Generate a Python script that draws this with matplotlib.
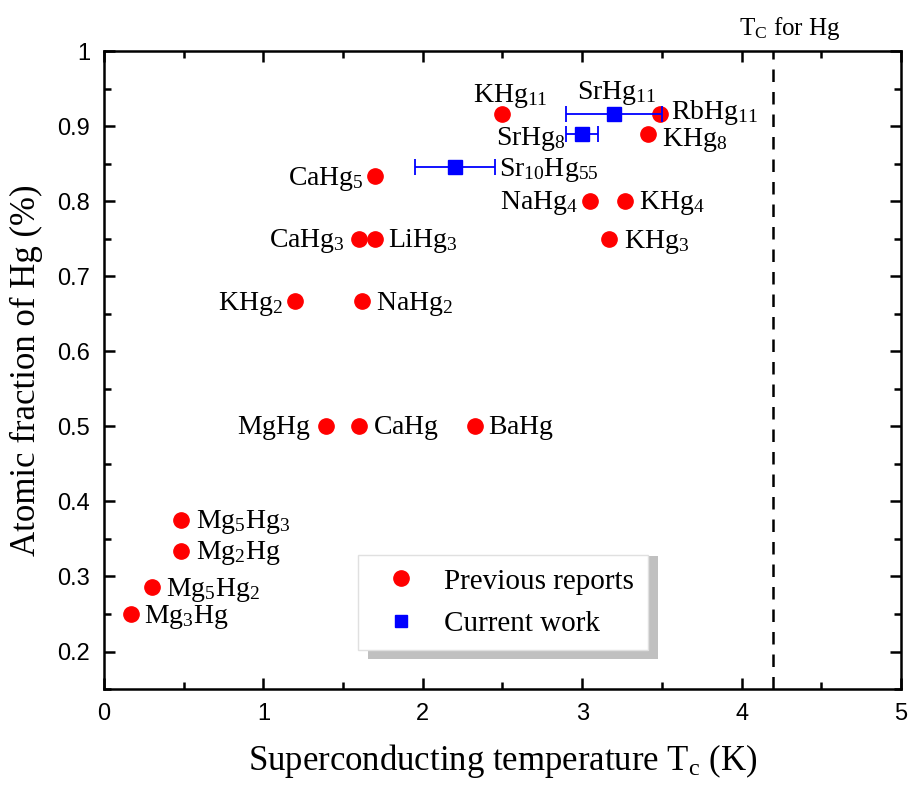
import matplotlib
matplotlib.use("Agg")
import matplotlib.pyplot as plt
from matplotlib.patches import Rectangle
from matplotlib.lines import Line2D
from matplotlib.ticker import MultipleLocator

plt.rcParams['font.family'] = ['Liberation Serif', 'DejaVu Serif']
plt.rcParams['mathtext.fontset'] = 'custom'
plt.rcParams['mathtext.rm'] = 'Liberation Serif'

# previous reports (red circles)
prev_names = ['KHg_{11}', 'RbHg_{11}', 'KHg_{8}', 'CaHg_{5}', 'NaHg_{4}', 'KHg_{4}',
              'CaHg_{3}', 'LiHg_{3}', 'KHg_{3}', 'KHg_{2}', 'NaHg_{2}',
              'MgHg', 'CaHg', 'BaHg', 'Mg_{5}Hg_{3}', 'Mg_{2}Hg', 'Mg_{5}Hg_{2}', 'Mg_{3}Hg']
prev_tc = [2.50, 3.49, 3.41, 1.70, 3.05, 3.27, 1.60, 1.70, 3.17, 1.20, 1.62,
           1.39, 1.60, 2.33, 0.48, 0.48, 0.30, 0.17]
prev_frac = [11/12, 11/12, 8/9, 5/6, 0.8, 0.8, 0.75, 0.75, 0.75, 2/3, 2/3,
             0.5, 0.5, 0.5, 3/8, 1/3, 2/7, 0.25]
# label offsets in pixels (dx, dy, ha)
prev_off = [(8, 18, 'center'), (11, 1, 'left'), (14, -6, 'left'), (-11, -3, 'right'),
            (-12, -2, 'right'), (14, -2, 'left'), (-14, -2, 'right'), (13, -2, 'left'),
            (15, -3, 'left'), (-12, -3, 'right'), (14, -3, 'left'), (-15, -2, 'right'),
            (14, -2, 'left'), (13, -2, 'left'), (15, -2, 'left'), (15, -2, 'left'),
            (14, -3, 'left'), (13, -3, 'left')]

# current work (blue squares)
cur_names = ['SrHg_{11}', 'SrHg_{8}', 'Sr_{10}Hg_{55}']
cur_tc = [3.20, 3.00, 2.20]
cur_err = [0.30, 0.10, 0.25]
cur_frac = [11/12, 8/9, 55/65]
cur_off = [(3, 21, 'center'), (-16, -5, 'right'), (44, -3, 'left')]

tc_hg = 4.2

fig = plt.figure(figsize=(9.09, 7.89), dpi=100)
ax = fig.add_axes([0.1144, 0.1267, 0.8768, 0.8086])

ax.plot(prev_tc, prev_frac, 'o', color='#ff0000', ms=11, zorder=3)
ax.errorbar(cur_tc, cur_frac, xerr=cur_err, fmt='s', color='#0000ff', ms=10,
            elinewidth=1.3, capsize=6, capthick=1.3, zorder=4)
ax.axvline(tc_hg, color='black', lw=1.8, ls=(0, (5, 4)))

for n, x, y, (dx, dy, ha) in zip(prev_names, prev_tc, prev_frac, prev_off):
    ax.annotate(r'$\mathregular{' + n + '}$', (x, y), xytext=(dx, dy),
                textcoords='offset pixels', ha=ha, va='center', fontsize=20)
for n, x, y, (dx, dy, ha) in zip(cur_names, cur_tc, cur_frac, cur_off):
    ax.annotate(r'$\mathregular{' + n + '}$', (x, y), xytext=(dx, dy),
                textcoords='offset pixels', ha=ha, va='center', fontsize=20)

ax.text(4.3, 1.036, r'$\mathregular{T_C}$ for Hg', transform=ax.get_xaxis_transform(),
        ha='center', va='center', fontsize=18)

ax.set_xlim(0, 5)
ax.set_ylim(0.15, 1.0)
ax.xaxis.set_major_locator(MultipleLocator(1))
ax.xaxis.set_minor_locator(MultipleLocator(0.5))
ax.yaxis.set_minor_locator(MultipleLocator(0.05))
ax.set_yticks([0.2, 0.3, 0.4, 0.5, 0.6, 0.7, 0.8, 0.9, 1.0])
ax.set_yticklabels(['0.2', '0.3', '0.4', '0.5', '0.6', '0.7', '0.8', '0.9', '1'])
ax.tick_params(which='both', direction='in', top=True, right=True, width=1.8)
ax.tick_params(which='major', length=8, pad=10)
ax.tick_params(which='minor', length=5)
for lab in ax.get_xticklabels() + ax.get_yticklabels():
    lab.set_family(['Liberation Sans Narrow', 'Liberation Sans'])
    lab.set_fontsize(17)
for s in ax.spines.values():
    s.set_linewidth(1.8)

ax.set_xlabel(r'Superconducting temperature $\mathregular{T_c}$ (K)', fontsize=25, labelpad=12)
ax.set_ylabel('Atomic fraction of Hg (%)', fontsize=25, labelpad=10)

# legend with offset grey shadow
handles = [Line2D([], [], ls='none', marker='o', color='#ff0000', ms=11),
           Line2D([], [], ls='none', marker='s', color='#0000ff', ms=9)]
ax.add_patch(Rectangle((0.331, 0.047), 0.364, 0.161, transform=ax.transAxes,
                       facecolor='#c0c0c0', edgecolor='none', zorder=5))
leg = ax.legend(handles, ['Previous reports', 'Current work'], loc='lower left',
                bbox_to_anchor=(0.319, 0.061, 0.364, 0.16), mode='expand',
                fontsize=21, frameon=True, fancybox=False, edgecolor='#e0e0e0',
                framealpha=1, borderpad=0.45, labelspacing=0.55, handletextpad=0.5,
                handlelength=2.0, borderaxespad=0)
leg.set_zorder(6)
leg.get_frame().set_linewidth(1)

fig.savefig('out.png', dpi=100)
